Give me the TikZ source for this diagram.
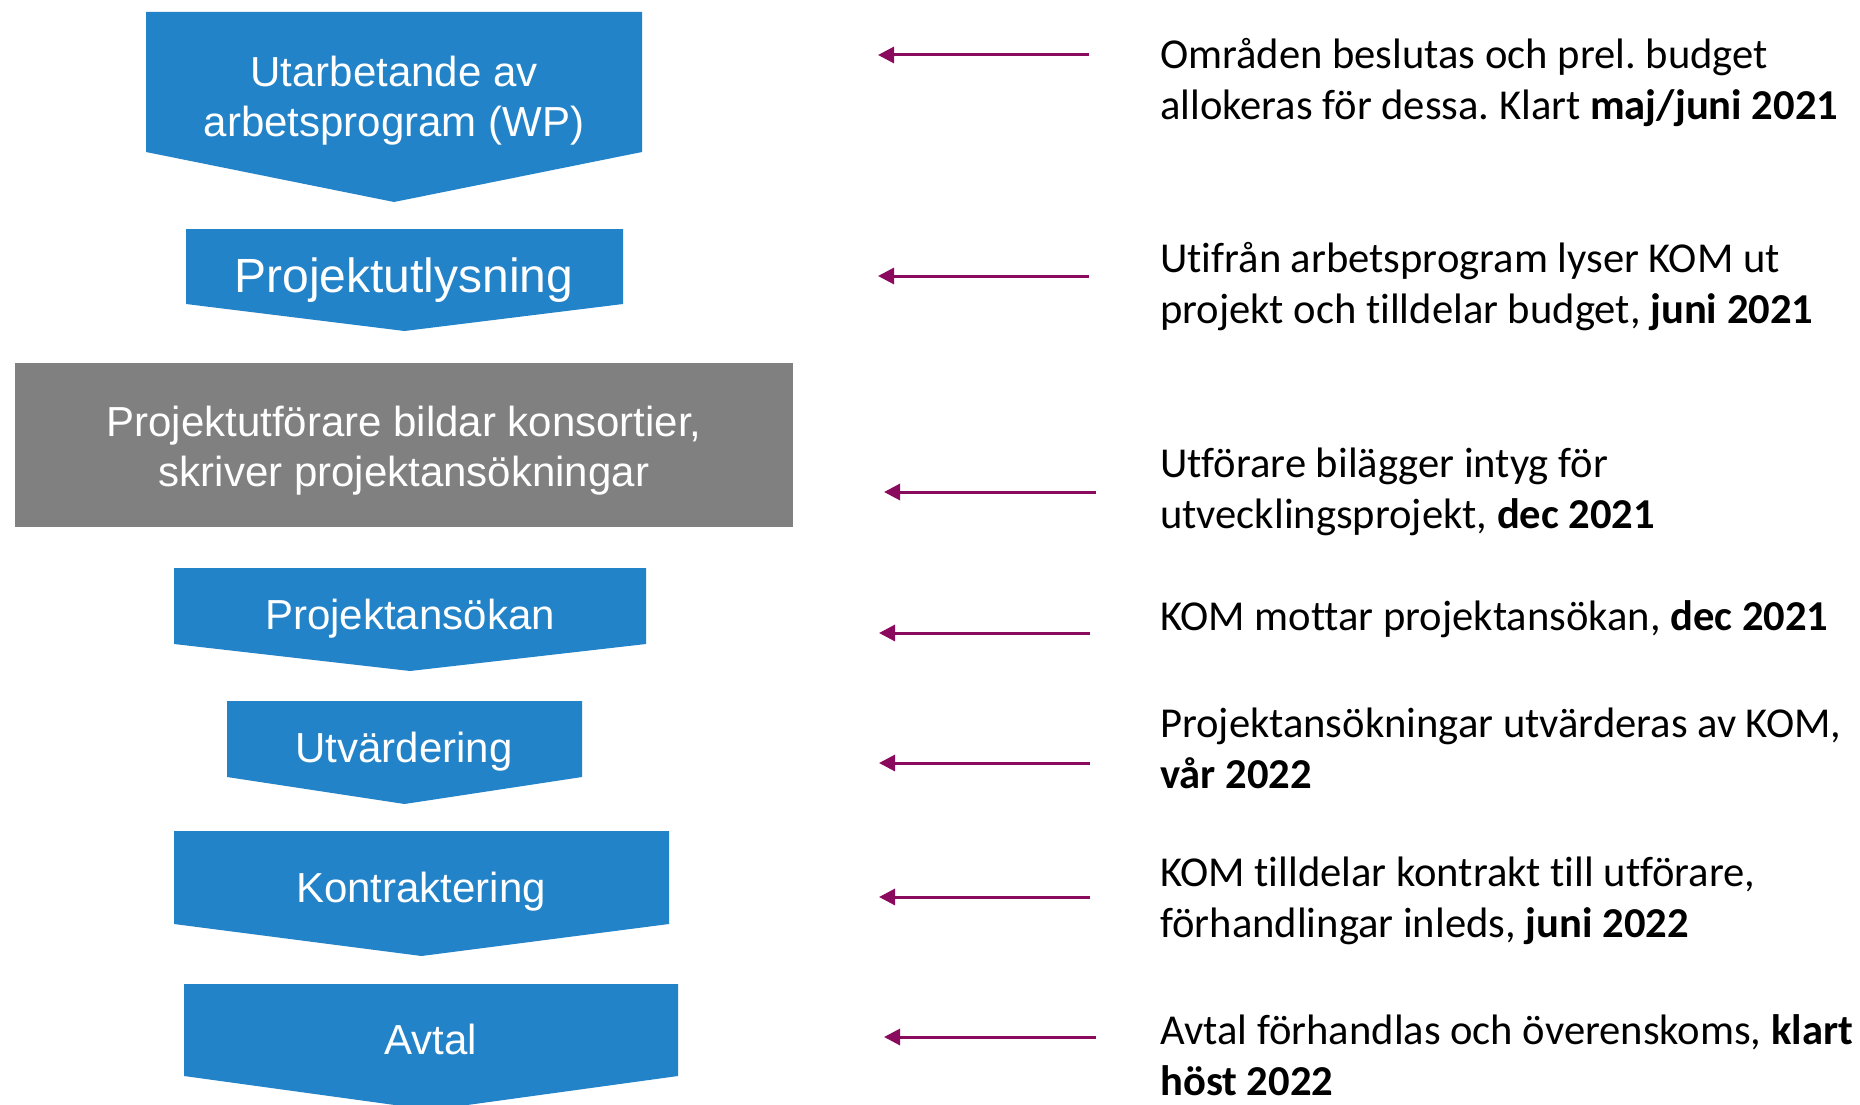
\documentclass[tikz,border=0pt]{standalone}
\usepackage{fontspec}
\setmainfont{Carlito}[Ligatures=NoCommon]
\newfontfamily\boxfont{Liberation Sans}
\usetikzlibrary{arrows.meta}
\definecolor{stepblue}{HTML}{2283C9}
\definecolor{stepgray}{HTML}{808080}
\definecolor{notearrow}{HTML}{8A0A5E}
\frenchspacing

\begin{document}
\begin{tikzpicture}[x=1pt,y=-1pt,
	boxtxt/.style={text=white,align=center,font=\boxfont\fontsize{42}{50}\selectfont},
	note/.style={anchor=west,inner sep=0pt,align=left,font=\fontsize{42.6}{51}\selectfont},
	tl/.style={notearrow,line width=3pt,-{Triangle[length=16pt,width=16pt]}}]
		\useasboundingbox (0,0) rectangle (1860,1105);

		% step shapes: left/right/top/bottom/tip
		\foreach \xl/\xr/\yt/\yb/\yp in {146/642/12/152/202, 186/623/229/304/331, 174/646/568/644/671, 227/582/701/777/804, 174/669/831/924/956, 184/678/984/1076/1110} {
			\fill[stepblue] (\xl,\yt) -- (\xr,\yt) -- (\xr,\yb) -- ({(\xl+\xr)/2},\yp) -- (\xl,\yb) -- cycle;
		}
		\fill[stepgray] (15,363) rectangle (793,527);

		\node[boxtxt] (wp) at (394,101) {Utarbetande av\\arbetsprogram (WP)};
		\node[boxtxt,font=\boxfont\fontsize{48}{56}\selectfont] (utlys) at (404,280) {Projektutlysning};
		\node[boxtxt] (konsort) at (404,451) {Projektutförare bildar konsortier,\\skriver projektansökningar};
		\node[boxtxt] (ansok) at (410,619) {Projektansökan};
		\node[boxtxt] (utvard) at (404,752) {Utvärdering};
		\node[boxtxt] (kontrakt) at (421,892) {Kontraktering};
		\node[boxtxt] (avtal) at (431,1039) {Avtal};

		\node[note] (n1) at (1160,83) {Områden beslutas och prel. budget\\allokeras för dessa. Klart \textbf{maj/juni 2021}};
		\node[note] (n2) at (1160,287) {Utifrån arbetsprogram lyser KOM ut\\projekt och tilldelar budget, \textbf{juni 2021}};
		\node[note] (n3) at (1160,492) {Utförare bilägger intyg för\\utvecklingsprojekt, \textbf{dec 2021}};
		\node[note] (n4) at (1160,619) {KOM mottar projektansökan, \textbf{dec 2021}};
		\node[note] (n5) at (1160,748) {Projektansökningar utvärderas av KOM,\\\textbf{vår 2022}};
		\node[note] (n6) at (1160,901) {KOM tilldelar kontrakt till utförare,\\förhandlingar inleds, \textbf{juni 2022}};
		\node[note] (n7) at (1160,1055) {Avtal förhandlas och överenskoms, \textbf{klart}\\\textbf{höst 2022}};

		\foreach \i/\xs/\xe/\y in {1/1089/878/55, 2/1089/878/276, 3/1096/884/492, 4/1090/879/633, 5/1090/879/763, 6/1090/879/897, 7/1096/884/1037} {
			\coordinate (s\i) at (\xs,\y);
			\coordinate (e\i) at (\xe,\y);
		}
		\foreach \i in {1,...,7} {
			\draw[tl] (s\i) -- (e\i);
		}
	\end{tikzpicture}
\end{document}
